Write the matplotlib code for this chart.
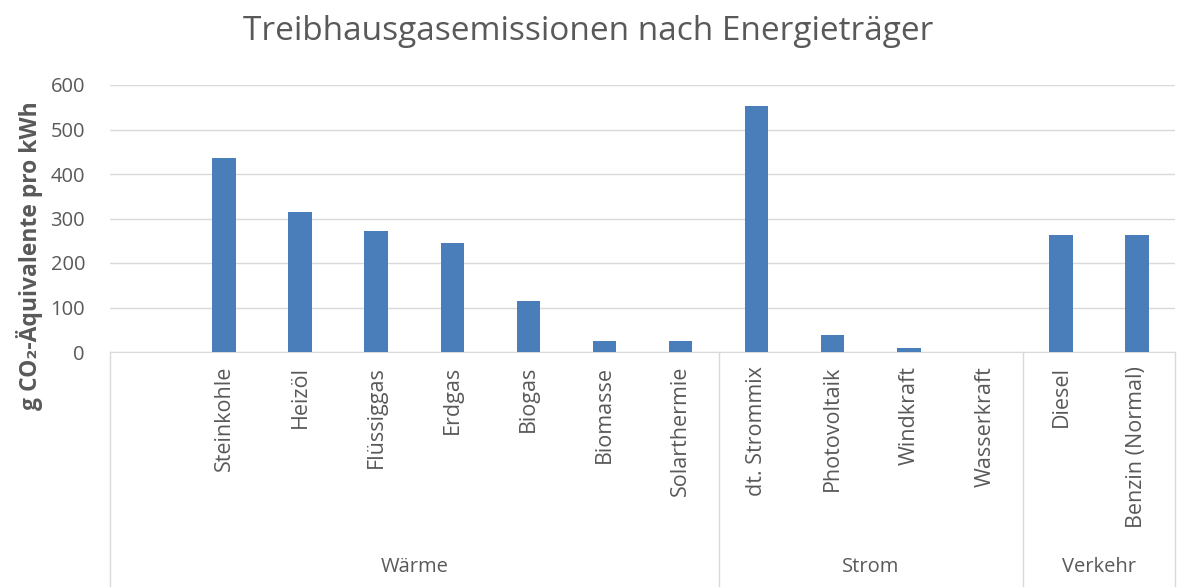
import matplotlib
matplotlib.use("Agg")
import matplotlib.pyplot as plt
import matplotlib.transforms as mtransforms

categories = ["", "Steinkohle", "Heizöl", "Flüssiggas", "Erdgas", "Biogas", "Biomasse",
              "Solarthermie", "dt. Strommix", "Photovoltaik", "Windkraft", "Wasserkraft",
              "Diesel", "Benzin (Normal)"]
values = [0, 436, 315, 272, 245, 114, 24, 24, 553, 38, 10, 0, 264, 264]
groups = ["Wärme", "Strom", "Verkehr"]
group_sizes = [8, 4, 2]
yticks = [0, 100, 200, 300, 400, 500, 600]

plt.rcParams['font.family'] = ['Open Sans', 'DejaVu Sans']
gray = "#595959"

W, H = 1180, 588
fig = plt.figure(figsize=(W / 100, H / 100), dpi=100)
ax = fig.add_axes([110 / W, 1 - 352 / H, (1175 - 110) / W, (352 - 85) / H])

x = list(range(len(categories)))
ax.bar(x, values, width=0.31, color="#4a7ebb", zorder=3)
ax.set_xlim(-0.5, len(categories) - 0.5)
ax.set_ylim(0, 600)
ax.set_yticks(yticks)
ax.set_yticklabels([str(v) for v in yticks], fontsize=14.5, color=gray)
ax.tick_params(axis='y', length=0, pad=18)
ax.grid(axis='y', color="#d9d9d9", linewidth=1, zorder=0)
for s in ["top", "right", "left"]:
    ax.spines[s].set_visible(False)
ax.spines["bottom"].set_color("#d9d9d9")
ax.set_xticks([])

# category labels
trans = mtransforms.blended_transform_factory(ax.transData, fig.transFigure)
for xi, lab in zip(x, categories):
    if lab:
        ax.text(xi, 1 - 366 / H, lab, transform=trans, rotation=90, ha='center', va='top',
                fontsize=15.5, color=gray)

# group labels and separators
start = -0.5
ax.plot([start, start], [1 - 352 / H, 1 - 586 / H], transform=trans, color="#d9d9d9",
        lw=1, clip_on=False)
for g, n in zip(groups, group_sizes):
    end = start + n
    ax.plot([end, end], [1 - 352 / H, 1 - 586 / H], transform=trans, color="#d9d9d9",
            lw=1, clip_on=False)
    ax.text((start + end) / 2, 1 - 567 / H, g, transform=trans, ha='center', va='center',
            fontsize=14.5, color=gray)
    start = end

fig.text(588 / W, 1 - 31 / H, "Treibhausgasemissionen nach Energieträger", ha='center',
         va='center', fontsize=24, color=gray)
fig.text(30 / W, 1 - 256 / H, "g CO₂-Äquivalente pro kWh", rotation=90, ha='center',
         va='center', fontsize=16.5, fontweight='bold', color=gray)

fig.savefig("out.png", dpi=100)
